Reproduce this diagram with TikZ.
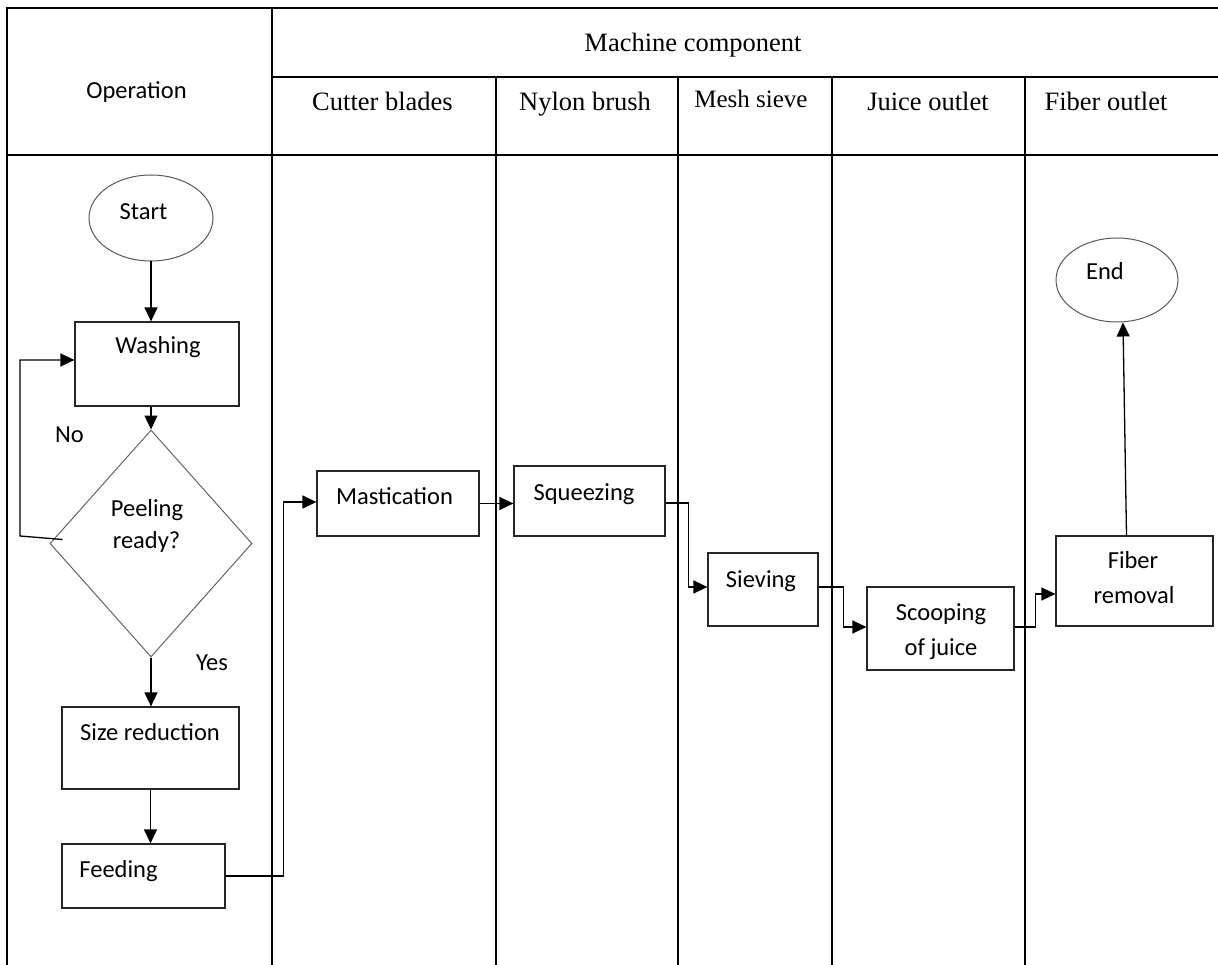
\documentclass[tikz,border=0pt]{standalone}
\usepackage{fontspec}
\setmainfont{Liberation Serif}
\newfontfamily\calfont{Carlito}
\usetikzlibrary{arrows.meta,shapes.geometric}
\begin{document}
\begin{tikzpicture}[x=1pt,y=-1pt,
  tbl/.style={line width=1.5pt, draw=black},
  box/.style={draw=black!85, line width=1.2pt, rectangle, inner sep=0pt},
  term/.style={ellipse, draw=black!65, line width=1pt, inner sep=0pt},
  dec/.style={diamond, draw=black!60, line width=1pt, inner sep=0pt},
  hdr/.style={font=\fontsize{26.5}{30}\selectfont, anchor=base, inner sep=0pt},
  txt/.style={font=\calfont\fontsize{24.5}{28}\selectfont, anchor=base, inner sep=0pt},
  flow/.style={line width=1.3pt, draw=black, -{Triangle[length=14pt,width=13pt]}}]
\useasboundingbox (0,0) rectangle (1218,965);
\fill[white] (0,0) rectangle (1218,965);
% table
\draw[tbl] (7,965) -- (7,8) -- (1218,8);
\draw[tbl] (272,8) -- (272,965);
\draw[tbl] (272,77) -- (1218,77);
\draw[tbl] (7,155) -- (1218,155);
\foreach \cx in {496,678,832,1025} \draw[tbl] (\cx,77) -- (\cx,965);
% headers
\node[txt] (hOp) at (136.5,99) {Operation};
\node[hdr] (hMc) at (693,52) {Machine component};
\node[hdr] (hCb) at (382.5,111) {Cutter blades};
\node[hdr] (hNb) at (585,111) {Nylon brush};
\node[hdr, font=\fontsize{25}{28}\selectfont] (hMs) at (751,108) {Mesh sieve};
\node[hdr] (hJo) at (928,111) {Juice outlet};
\node[hdr] (hFo) at (1106,111) {Fiber outlet};
% shapes
\node[term, minimum width=124pt, minimum height=86pt] (start) at (151,218) {};
\node[box, minimum width=164pt, minimum height=84pt] (wash) at (157,364) {};
\node[dec, minimum width=202pt, minimum height=227pt] (dia) at (151,543.5) {};
\node[box, minimum width=177pt, minimum height=82pt] (size) at (150.5,748) {};
\node[box, minimum width=163pt, minimum height=64pt] (feed) at (143.5,876) {};
\node[box, minimum width=162pt, minimum height=65pt] (mast) at (398,503.5) {};
\node[box, minimum width=151pt, minimum height=70pt] (sque) at (589.5,501) {};
\node[box, minimum width=110pt, minimum height=73pt] (siev) at (763,589.5) {};
\node[box, minimum width=147pt, minimum height=83pt] (scoop) at (940.5,628.5) {};
\node[box, minimum width=157pt, minimum height=90pt] (fiber) at (1134.5,581) {};
\node[term, minimum width=122pt, minimum height=84pt] (end) at (1117,280) {};
% texts
\node[txt] (tStart) at (143.5,220) {Start};
\node[txt] (tWash) at (158,354) {Washing};
\node[txt] (tNo) at (69.5,442) {No};
\node[txt] (tPeel) at (147,516) {Peeling};
\node[txt] (tReady) at (146.5,548) {ready?};
\node[txt] (tYes) at (212,670) {Yes};
\node[txt] (tSize) at (150,740) {Size reduction};
\node[txt] (tFeed) at (118.5,877) {Feeding};
\node[txt] (tMast) at (394.5,504) {Mastication};
\node[txt] (tSque) at (584,500) {Squeezing};
\node[txt] (tSiev) at (761,587) {Sieving};
\node[txt] (tScoop1) at (941,620) {Scooping};
\node[txt] (tScoop2) at (941,655) {of juice};
\node[txt] (tFib1) at (1133,568) {Fiber};
\node[txt] (tFib2) at (1134,603) {removal};
\node[txt] (tEnd) at (1105,280) {End};
% connectors
\draw[flow] (start.south) -- (start.south |- wash.north);
\draw[flow] (dia.north |- wash.south) -- (dia.north);
\draw[flow] ([xshift=13pt,yshift=4pt]dia.west) -- (20,536) |- ([yshift=4pt]wash.west);
\draw[flow] (dia.south) -- (dia.south |- size.north);
\draw[flow] (size.south) -- (size.south |- feed.north);
\draw[flow] (feed.east) -- ++(58,0) |- ([yshift=1.5pt]mast.west);
\draw[flow] (mast.east) -- (mast.east -| sque.west);
\draw[flow] ([yshift=-2pt]sque.east) -- ++(23,0) |- ([yshift=2.5pt]siev.west);
\draw[flow] ([yshift=2.5pt]siev.east) -- ++(25,0) |- ([yshift=1.5pt]scoop.west);
\draw[flow] ([yshift=1.5pt]scoop.east) -- ++(21,0) |- ([yshift=-13pt]fiber.west);
\draw[flow] ([xshift=-8pt]fiber.north) -- ([xshift=6pt]end.south);
\end{tikzpicture}
\end{document}
